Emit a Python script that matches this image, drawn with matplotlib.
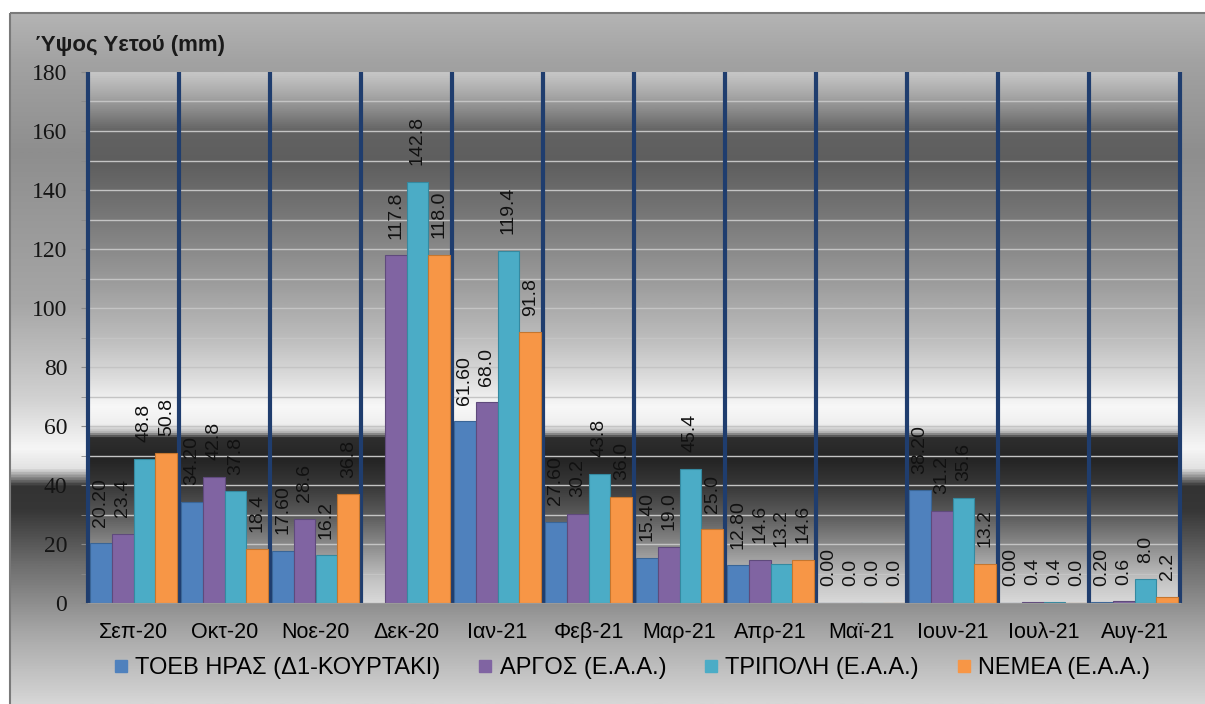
import numpy as np
import matplotlib
matplotlib.use("Agg")
import matplotlib.pyplot as plt
from matplotlib.colors import LinearSegmentedColormap
from matplotlib.lines import Line2D
from matplotlib.patches import Rectangle

# Data
months = ['Σεπ-20', 'Οκτ-20', 'Νοε-20', 'Δεκ-20', 'Ιαν-21', 'Φεβ-21',
          'Μαρ-21', 'Απρ-21', 'Μαϊ-21', 'Ιουν-21', 'Ιουλ-21', 'Αυγ-21']
series_names = ['ΤΟΕΒ ΗΡΑΣ (Δ1-ΚΟΥΡΤΑΚΙ)', 'ΑΡΓΟΣ (Ε.Α.Α.)',
                'ΤΡΙΠΟΛΗ (Ε.Α.Α.)', 'ΝΕΜΕΑ (Ε.Α.Α.)']
toeb = [20.20, 34.20, 17.60, np.nan, 61.60, 27.60, 15.40, 12.80, 0.00, 38.20, 0.00, 0.20]
argos = [23.4, 42.8, 28.6, 117.8, 68.0, 30.2, 19.0, 14.6, 0.0, 31.2, 0.4, 0.6]
tripoli = [48.8, 37.8, 16.2, 142.8, 119.4, 43.8, 45.4, 13.2, 0.0, 35.6, 0.4, 8.0]
nemea = [50.8, 18.4, 36.8, 118.0, 91.8, 36.0, 25.0, 14.6, 0.0, 13.2, 0.0, 2.2]
series = [toeb, argos, tripoli, nemea]
label_fmt = ['{:.2f}', '{:.1f}', '{:.1f}', '{:.1f}']

colors = ['#4f81bd', '#8064a2', '#4bacc6', '#f79646']
edges = ['#3a6596', '#5f4a7c', '#3589a0', '#c5762f']

W, H = 1205, 704
fig = plt.figure(figsize=(W / 100, H / 100), dpi=100)
fig.patch.set_facecolor('white')

# metallic background of the chart area (figure level)
bg = fig.add_axes([0, 0, 1, 1])
bg.set_xlim(0, W)
bg.set_ylim(H, 0)
bg.axis('off')
outer_stops = [(0.0, '#b4b4b4'), (0.07, '#a2a2a2'), (0.2, '#8e8e8e'),
               (0.42, '#a6a6a6'), (0.56, '#d2d2d2'), (0.63, '#f6f6f6'),
               (0.66, '#e2e2e2'), (0.685, '#333333'), (0.72, '#363636'),
               (0.8, '#6e6e6e'), (0.9, '#a8a8a8'), (1.0, '#d6d6d6')]
outer_cmap = LinearSegmentedColormap.from_list('outer', outer_stops)
grad = np.linspace(0, 1, 512).reshape(-1, 1)
bg.imshow(grad, cmap=outer_cmap, aspect='auto', extent=(10, W, H, 13),
          interpolation='bilinear')
bg.add_patch(Rectangle((10, 13), W, H, fill=False, edgecolor='#7a7a7a', lw=1.5))

# plot area
ax = fig.add_axes([88 / W, 1 - 603 / H, (1180 - 88) / W, (603 - 72) / H])
inner_stops = [(0.0, '#c6c6c6'), (0.045, '#a4a4a4'), (0.11, '#626262'),
               (0.17, '#5e5e5e'), (0.28, '#7a7a7a'), (0.39, '#9a9a9a'),
               (0.5, '#bcbcbc'), (0.58, '#dedede'), (0.63, '#f8f8f8'),
               (0.665, '#eeeeee'), (0.678, '#bcbcbc'), (0.69, '#2e2e2e'),
               (0.73, '#242424'), (0.78, '#383838'), (0.84, '#5e5e5e'),
               (0.91, '#9a9a9a'), (0.96, '#c4c4c4'), (1.0, '#d8d8d8')]
inner_cmap = LinearSegmentedColormap.from_list('inner', inner_stops)
ax.imshow(grad, cmap=inner_cmap, aspect='auto', extent=(-0.5, 11.5, 0, 180),
          interpolation='bilinear', zorder=0.1)

x = np.arange(len(months))
w = 0.24
for k, (vals, name) in enumerate(zip(series, series_names)):
    pos = x + (k - 1.5) * w
    ax.bar(pos, vals, w, color=colors[k], edgecolor=edges[k], lw=0.8,
           zorder=2, label=name)
    for px, v in zip(pos, vals):
        if np.isnan(v):
            continue
        ax.annotate(label_fmt[k].format(v), (px, v), xytext=(0, 12),
                    textcoords='offset points', rotation=90, ha='center',
                    va='bottom', fontsize=14, family='Liberation Sans',
                    color='#111111', zorder=3)

# dark blue separators between months
ax.vlines(np.arange(-0.5, 12, 1), 0, 180, colors='#1f3d6e', lw=3,
          zorder=1.5, clip_on=False)

ax.set_xlim(-0.5, 11.5)
ax.set_ylim(0, 180)
ax.set_yticks(np.arange(0, 181, 20))
ax.set_yticks(np.arange(0, 181, 10), minor=True)
ax.grid(True, which='both', axis='y', color='#c4c4c4', lw=1, zorder=0.5)
ax.set_axisbelow(True)
ax.set_xticks(x)
ax.set_xticklabels(months, fontsize=15.5, family='Liberation Sans')
ax.tick_params(axis='x', length=0, pad=14)
ax.tick_params(axis='y', which='both', length=5, color='#8a8a8a', pad=10)
for t in ax.get_yticklabels():
    t.set_family('Liberation Serif')
    t.set_fontsize(17)
    t.set_color('#151515')
for s in ['top', 'right', 'left']:
    ax.spines[s].set_visible(False)
ax.spines['bottom'].set_color('#9a9a9a')

fig.text(35 / W, 1 - 46 / H, 'Ύψος Υετού (mm)', fontsize=16, fontweight='bold',
         family='Liberation Sans', va='center', ha='left', color='#1a1a1a')

handles = [Line2D([], [], marker='s', linestyle='', markersize=9,
                  markerfacecolor=c, markeredgecolor=c) for c in colors]
fig.legend(handles, series_names, loc='center', ncol=4,
           bbox_to_anchor=(632 / W, 1 - 668 / H), frameon=False,
           prop={'family': 'Liberation Sans', 'size': 17},
           handlelength=0.6, handletextpad=0.3, columnspacing=1.6)

fig.savefig('out.png', dpi=100)
